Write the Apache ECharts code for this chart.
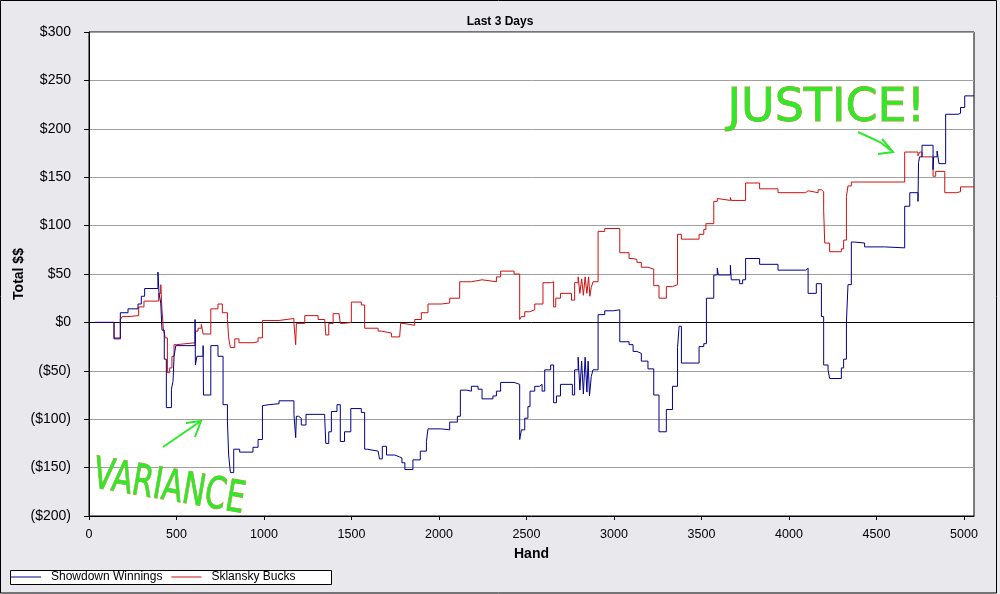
<!DOCTYPE html>
<html>
<head>
<meta charset="utf-8">
<script src="https://cdn.jsdelivr.net/npm/echarts@6/dist/echarts.min.js"></script>
<style>
html,body{margin:0;padding:0;background:#e9e8ed;}
#chart{width:1000px;height:594px;}
</style>
</head>
<body>
<div id="chart"></div>
<script>
const chartTitle = 'Last 3 Days';
const xAxisName = 'Hand';
const yAxisName = 'Total $$';
const seriesNames = ['Showdown Winnings', 'Sklansky Bucks'];
const xTicks = [0, 500, 1000, 1500, 2000, 2500, 3000, 3500, 4000, 4500, 5000];
const yTicks = [-200, -150, -100, -50, 0, 50, 100, 150, 200, 250, 300];
const lastHand = 5057;

// [hand, cumulative $] - value changes at given hand
const showdownWinnings = [
  [33,0],[143,-17],[179,10],[223,14],[280,19],[299,27],[318,35],[394,52],[400,30],[410,20],[417,-8],[430,-38],[442,-88],
  [471,-69],[480,-61],[486,-35],[496,-24],[606,3],[608,-44],[617,-35],[652,-24],[654,-75],[696,-24],[737,-35],[766,-85],
  [791,-102],[798,-137],[808,-155],[827,-131],[861,-134],[937,-129],[966,-121],[991,-86],[1000,-85],[1029,-84],[1086,-81],
  [1171,-95],[1181,-119],[1185,-97],[1198,-99],[1213,-106],[1240,-95],[1347,-99],[1353,-125],[1370,-113],[1385,-92],
  [1417,-85],[1436,-123],[1460,-113],[1496,-89],[1556,-93],[1575,-131],[1590,-133],[1652,-135],[1660,-141],[1676,-128],
  [1700,-137],[1747,-139],[1775,-140],[1788,-145],[1805,-152],[1851,-142],[1893,-133],[1928,-123],[1937,-110],[2013,-111],
  [2061,-103],[2105,-97],[2122,-70],[2157,-71],[2185,-66],[2223,-69],[2246,-79],[2308,-76],[2328,-71],[2352,-62],[2429,-64],
  [2461,-121],[2471,-111],[2490,-99],[2508,-87],[2520,-71],[2547,-66],[2575,-64],[2589,-71],[2604,-49],[2638,-44],[2655,-83],
  [2671,-76],[2694,-64],[2762,-75],[2775,-49],[2795,-36],[2805,-70],[2815,-40],[2825,-74],[2835,-36],[2845,-72],[2852,-40],
  [2860,-76],[2870,-56],[2880,-49],[2909,8],[2947,12],[2995,13],[3033,-20],[3086,-23],[3109,-30],[3131,-32],[3156,-40],
  [3194,-48],[3227,-75],[3257,-113],[3299,-90],[3334,-66],[3363,-26],[3372,-4],[3385,-42],[3486,-25],[3513,-22],[3528,25],
  [3570,49],[3590,56],[3596,49],[3665,59],[3670,44],[3718,40],[3735,44],[3752,66],[3832,60],[3937,54],[4095,56],[4109,30],
  [4156,40],[4185,6],[4198,-44],[4223,-49],[4232,-58],[4299,-47],[4312,-38],[4328,0],[4337,39],[4356,83],[4375,82],[4432,78],
  [4546,77],[4661,120],[4690,134],[4737,125],[4740,165],[4746,171],[4760,183],[4823,158],[4826,171],[4846,177],[4857,164],
  [4895,215],[4966,216],[4980,222],[5004,234],[5057,234]
];
const sklanskyBucks = [
  [33,0],[143,-16],[179,3],[190,6],[223,7],[284,16],[314,22],[398,30],[410,39],[417,13],[425,-7],[436,-16],[448,-52],
  [461,-47],[474,-35],[486,-23],[499,-21],[608,-9],[623,-6],[642,-2],[652,-12],[696,14],[737,19],[762,10],[791,3],[798,-16],
  [808,-26],[833,-17],[857,-21],[937,-20],[966,-16],[991,2],[1086,4],[1171,-1],[1181,-23],[1185,-1],[1233,7],[1309,3],
  [1347,1],[1353,-13],[1370,-1],[1395,9],[1429,11],[1436,-1],[1455,0],[1499,21],[1556,18],[1575,-6],[1652,-9],[1670,-11],
  [1728,-15],[1775,-13],[1781,-1],[1794,1],[1804,-3],[1861,3],[1899,10],[1937,19],[2013,20],[2061,25],[2118,42],[2185,44],
  [2246,42],[2328,47],[2352,53],[2429,50],[2461,3],[2471,6],[2490,11],[2518,13],[2547,19],[2594,41],[2642,42],[2655,16],
  [2667,25],[2694,30],[2757,23],[2775,41],[2795,47],[2805,30],[2815,45],[2825,28],[2835,47],[2845,30],[2855,47],[2862,27],
  [2870,36],[2880,42],[2909,94],[2947,97],[3033,72],[3086,66],[3109,65],[3131,62],[3156,57],[3194,55],[3227,38],[3257,25],
  [3299,37],[3334,39],[3363,91],[3385,86],[3486,91],[3513,96],[3525,102],[3570,125],[3590,128],[3600,126],[3665,129],
  [3670,126],[3752,144],[3832,138],[3937,134],[4095,136],[4109,134],[4166,137],[4185,135],[4198,116],[4204,82],[4232,73],
  [4299,76],[4312,85],[4328,130],[4337,141],[4356,145],[4661,176],[4737,172],[4746,176],[4760,171],[4823,151],[4838,156],
  [4890,134],[4956,135],[4980,140],[5057,140]
];
const zeroLine = [0];

function money(v) {
  if (v < 0) return '($' + Math.abs(v) + ')';
  return '$' + v;
}

const chart = echarts.init(document.getElementById('chart'), null, {renderer: 'canvas'});
const green = '#2ee82a';
const orange = '#e07a30';
chart.setOption({
  animation: false,
  backgroundColor: '#e9e8ed',
  title: {
    text: chartTitle, left: 'center', top: 11,
    textStyle: {fontFamily: 'Liberation Sans', fontSize: 12, fontWeight: 'bold', color: '#000'}
  },
  grid: {
    left: 89, right: 26, top: 32, bottom: 78, outerBoundsMode: 'none', containLabel: false,
    show: true, backgroundColor: '#fff', borderColor: '#000', borderWidth: 1
  },
  legend: {
    left: 11, top: 571, itemWidth: 30, itemHeight: 1, itemGap: 9, padding: 0, icon: 'rect',
    data: seriesNames,
    textStyle: {fontFamily: 'Liberation Sans', fontSize: 12, color: '#000', padding: [0,0,0,5]}
  },
  xAxis: {
    type: 'value', min: xTicks[0], max: lastHand, interval: 500,
    name: xAxisName, nameLocation: 'middle', nameGap: 31, nameMoveOverlap: false,
    nameTextStyle: {fontFamily: 'Liberation Sans', fontSize: 14, fontWeight: 'bold', color: '#000'},
    axisLine: {show: true, onZero: false, lineStyle: {color: '#000', width: 1}},
    axisTick: {show: true, length: 4, lineStyle: {color: '#000'}},
    axisLabel: {
      margin: 12, fontFamily: 'Liberation Sans', fontSize: 12.5, color: '#000', showMaxLabel: false,
      formatter: v => (xTicks.indexOf(v) >= 0 ? String(v) : '')
    },
    splitLine: {show: false}
  },
  yAxis: {
    type: 'value', min: yTicks[0], max: yTicks[yTicks.length-1], interval: 50,
    name: yAxisName, nameLocation: 'middle', nameGap: 63, nameRotate: 90, nameMoveOverlap: false,
    nameTextStyle: {fontFamily: 'Liberation Sans', fontSize: 14, fontWeight: 'bold', color: '#000'},
    axisLine: {show: true, onZero: false, lineStyle: {color: '#000', width: 1}},
    axisTick: {show: true, length: 5, lineStyle: {color: '#000'}},
    axisLabel: {margin: 18, fontFamily: 'Liberation Sans', fontSize: 14, color: '#000', formatter: money},
    splitLine: {show: true, lineStyle: {color: '#a0a0a0', width: 1}}
  },
  series: [
    {
      name: 'zero', type: 'line', data: [], z: 1, symbol: 'none',
      markLine: {
        silent: true, symbol: 'none', label: {show: false}, z: 1,
        lineStyle: {color: '#000', type: 'solid', width: 1},
        data: zeroLine.map(v => ({yAxis: v}))
      }
    },
    {
      name: seriesNames[0], type: 'line', step: 'end', data: showdownWinnings,
      symbol: 'none', lineStyle: {color: '#00008b', width: 1}, itemStyle: {color: '#00008b'}, z: 3
    },
    {
      name: seriesNames[1], type: 'line', step: 'end', data: sklanskyBucks,
      symbol: 'none', lineStyle: {color: '#cc1111', width: 1}, itemStyle: {color: '#cc1111'}, z: 2
    }
  ],
  graphic: [
    {type: 'rect', z: -1, shape: {x: 10.5, y: 570.5, width: 321, height: 14}, style: {fill: '#fff', stroke: '#000', lineWidth: 1}, silent: true},
    {type: 'rect', z: 100, shape: {x: 0.5, y: 0.5, width: 996, height: 592.5}, style: {fill: null, stroke: '#000', lineWidth: 1}, silent: true},
    {type: 'text', z: 100, left: 727, top: 86, silent: true,
      style: {text: 'JUSTICE!', font: '46px "DejaVu Sans"', fill: green, stroke: orange, lineWidth: 0.8}},
    {type: 'polyline', z: 100, silent: true, shape: {points: [[858,132],[880,142],[893,152]]}, style: {stroke: green, lineWidth: 2, fill: null}},
    {type: 'polyline', z: 100, silent: true, shape: {points: [[882,139],[893,152],[878,154]]}, style: {stroke: green, lineWidth: 2, fill: null}},
    {type: 'text', z: 100, x: 97, y: 454, rotation: -0.17, scaleX: 0.69, silent: true,
      style: {text: 'VARIANCE', font: '44px "DejaVu Sans"', fill: green, stroke: orange, lineWidth: 0.8}},
    {type: 'line', z: 100, silent: true, shape: {x1: 163, y1: 447, x2: 201, y2: 421}, style: {stroke: green, lineWidth: 2}},
    {type: 'polyline', z: 100, silent: true, shape: {points: [[186,423],[201,421],[195,437]]}, style: {stroke: green, lineWidth: 2, fill: null}}
  ]
});
</script>
</body>
</html>
